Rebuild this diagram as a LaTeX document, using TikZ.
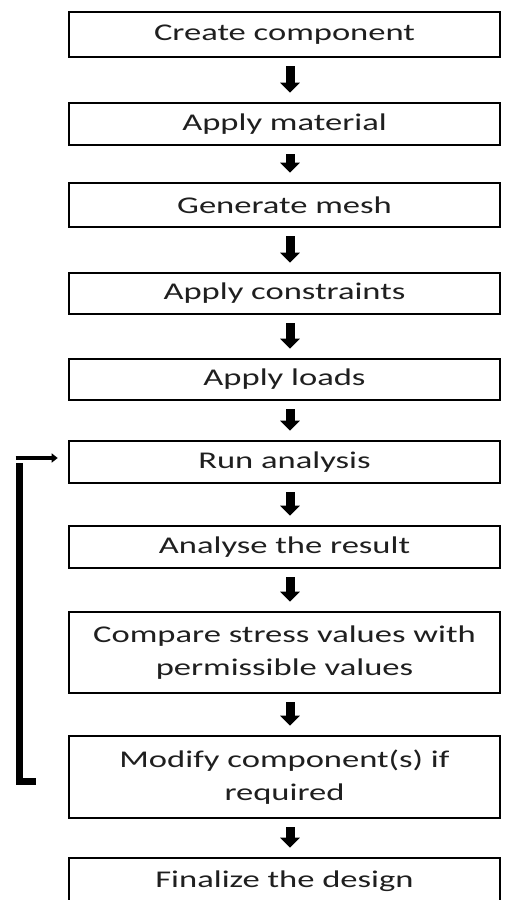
\documentclass[tikz,border=0pt]{standalone}
\usepackage{fontspec}
\setmainfont{Carlito}[FakeStretch=1.44]
\usetikzlibrary{arrows.meta,calc}
\begin{document}
\begin{tikzpicture}[x=1pt,y=1pt,
  stepbox/.style={draw=black, line width=2.6pt, minimum width=431pt, inner sep=0pt,
    text=black!88, align=center, font=\fontsize{24}{33}\selectfont},
  flowarrow/.style={line width=9pt, -{Triangle[width=19pt,length=10pt]},
    shorten <=8pt, shorten >=9pt},
  loopline/.style={line width=7pt},
  looparrow/.style={line width=4pt, -{Triangle[width=9pt,length=6pt]}}
]
\clip (0,0) rectangle (507,-900);
\useasboundingbox (0,0) rectangle (507,-900);
\fill[white] (0,0) rectangle (507,-900);

\node[stepbox, minimum height=45pt] (n1) at (284.5,-34.5) {Create component};
\node[stepbox, minimum height=42pt] (n2) at (284.5,-124) {Apply material};
\node[stepbox, minimum height=44pt] (n3) at (284.5,-205) {Generate mesh};
\node[stepbox, minimum height=41pt] (n4) at (284.5,-293.5) {Apply constraints};
\node[stepbox, minimum height=41pt] (n5) at (284.5,-379.5) {Apply loads};
\node[stepbox, minimum height=42pt] (n6) at (284.5,-462) {Run analysis};
\node[stepbox, minimum height=42pt] (n7) at (284.5,-547) {Analyse the result};
\node[stepbox, minimum height=81pt] (n8) at (284.5,-652.5) {Compare stress values with\\permissible values};
\node[stepbox, minimum height=82pt] (n9) at (284.5,-777) {Modify component(s) if\\required};
\node[stepbox, minimum height=46pt] (n10) at (284.5,-881) {Finalize the design};

\foreach \a/\b in {n1/n2,n2/n3,n3/n4,n4/n5,n5/n6,n6/n7,n7/n8,n8/n9,n9/n10}
  \draw[flowarrow] ([xshift=5.5pt]\a.south) -- ([xshift=5.5pt]\b.north);

\coordinate (fbstart) at ([xshift=-32pt,yshift=-4pt]n9.west);
\coordinate (fbtop) at ([xshift=-48pt,yshift=-1pt]n6.west);
\coordinate (fbleft) at ([xshift=-52pt,yshift=4pt]n6.west);
\draw[loopline] (fbstart) -| (fbtop);
\draw[looparrow] (fbleft) -- ([xshift=-10pt,yshift=4pt]n6.west);
\end{tikzpicture}
\end{document}
